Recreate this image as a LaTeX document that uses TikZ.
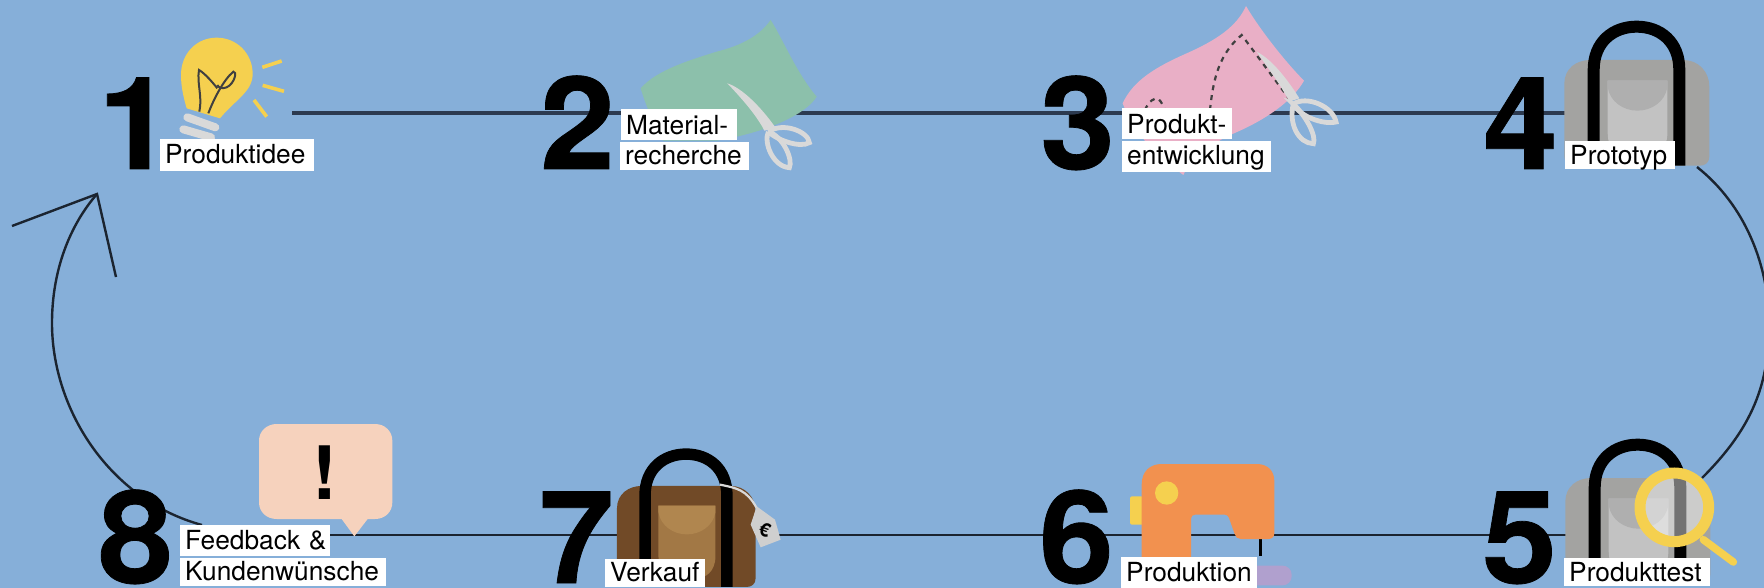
\documentclass[tikz,border=0pt]{standalone}
\usepackage{fontspec}
\setmainfont{TeX Gyre Heros}
\newfontfamily\digfont{TeX Gyre Heros}[BoldFeatures={FakeBold=0.6,FakeStretch=1.04}]
\definecolor{bgblue}{HTML}{86AFD9}
\definecolor{linedark}{HTML}{2C3A50}
\definecolor{curvedark}{HTML}{1B2430}
\definecolor{bulbyellow}{HTML}{F5D04F}
\definecolor{scissorgray}{HTML}{D9D9D9}
\definecolor{leafgreen}{HTML}{8CC0AB}
\definecolor{fabricpink}{HTML}{E9AFC6}
\definecolor{machineorange}{HTML}{F2914F}
\definecolor{basepurple}{HTML}{B0A0CE}
\definecolor{bubblepeach}{HTML}{F6D2BD}
\definecolor{baggray}{HTML}{A3A3A1}
\definecolor{pockgraytop}{HTML}{AFAFAF}
\definecolor{pockgraylow}{HTML}{C2C2C2}
\definecolor{bagbrown}{HTML}{714A27}
\definecolor{pockbrowntop}{HTML}{B0864F}
\definecolor{pockbrownlow}{HTML}{A27845}
\definecolor{tagcolor}{HTML}{CFCFCF}
\newcommand{\bagicon}[6]{%
  \begin{scope}[shift={(#1,#2)},scale=#3/3]
    \fill[#4] (283,250) .. controls (283,205) and (320,180) .. (360,180) -- (640,180)
      .. controls (685,180) and (718,215) .. (718,260) -- (718,470)
      .. controls (718,488) and (705,497) .. (690,497) -- (310,497)
      .. controls (295,497) and (283,488) .. (283,470) -- cycle;
    \fill[#6] (413,242) -- (592,242) -- (592,400) .. controls (592,450) and (560,470) .. (530,470)
      -- (475,470) .. controls (440,470) and (413,445) .. (413,400) -- cycle;
    \fill[#5] (413,242) -- (592,242) -- (592,262) .. controls (585,305) and (545,332) .. (502,332)
      .. controls (460,332) and (420,305) .. (413,262) -- cycle;
    \draw[black,line width=#3*12pt] (371,497) -- (371,210) .. controls (371,125) and (430,80) .. (500,80)
      .. controls (570,80) and (628,125) .. (628,210) -- (628,497);
  \end{scope}}
\tikzset{
  digit/.style={anchor=base west,inner sep=0pt,font=\digfont\fontsize{129}{129}\selectfont\bfseries,text=black},
  lab/.style={anchor=north west,fill=white,text=black,inner xsep=5pt,inner ysep=0pt,align=left,font=\fontsize{26.3}{26.3}\selectfont},
  mainline/.style={draw=linedark,line width=3.6pt},
  lowline/.style={draw=curvedark,line width=2.4pt},
  curveline/.style={draw=curvedark,line width=2.4pt},
  scissor/.style={draw=scissorgray,line width=4.8pt},
  ray/.style={draw=bulbyellow,line width=3.6pt},
  stitch/.style={draw=black!75,line width=2.2pt,dash pattern=on 5pt off 5pt}
}
\begin{document}
\begin{tikzpicture}[x=1pt,y=-1pt]
\useasboundingbox (0,0) rectangle (1764,588);
\clip (0,0) rectangle (1764,588);
\fill[bgblue] (0,0) rectangle (1764,588);
% connector ends
\coordinate (s1) at (292,113);
\coordinate (s2) at (640,113);
\coordinate (s3) at (1100,113);
\coordinate (s4) at (1600,113);
\coordinate (c4) at (1697,167);
\coordinate (c5) at (1702,478);
\coordinate (s5) at (1600,535);
\coordinate (s6) at (1100,535);
\coordinate (s7) at (640,535);
\coordinate (s8) at (330,535);
\coordinate (c8) at (202,525);
\coordinate (tip) at (97,194);
\coordinate (barbA) at (12,226);
\coordinate (barbB) at (116,277);
% connectors
\draw[mainline] (s1) -- (s2) -- (s3) -- (s4);
\draw[curveline] (c4) .. controls (1745,205) and (1769,265) .. (1769,325) .. controls (1769,390) and (1748,432) .. (c5);
\draw[lowline] (s5) -- (s6) -- (s7) -- (s8);
\draw[curveline] (c8) .. controls (110,500) and (52,410) .. (52,323) .. controls (52,270) and (70,225) .. (tip);
\draw[curveline,line join=miter] (barbA) -- (tip) -- (barbB);
% bulb
\begin{scope}[shift={(80,0)},scale=1/3]
  \fill[bulbyellow] (320,325) .. controls (310,290) and (303,260) .. (303,225) .. controls (303,160) and (350,113) .. (410,113)
    .. controls (470,113) and (518,160) .. (518,222) .. controls (518,275) and (465,300) .. (420,355) -- cycle;
  \draw[black!75,line width=2pt] (358,335) .. controls (368,290) and (350,250) .. (357,210)
    .. controls (375,220) and (400,250) .. (412,265);
  \draw[black!75,line width=2pt] (385,340) .. controls (400,300) and (430,240) .. (460,215)
    .. controls (472,212) and (465,250) .. (440,262) .. controls (425,268) and (415,262) .. (412,255);
  \draw[scissorgray,line width=8pt,line cap=round] (322,352) -- (406,382);
  \draw[scissorgray,line width=8pt,line cap=round] (310,388) -- (393,412);
  \draw[ray] (547,202) -- (605,183);
  \draw[ray] (548,256) -- (612,274);
  \draw[ray] (522,300) -- (560,350);
\end{scope}
% leaf and scissors
\begin{scope}[shift={(530,0)},scale=1/3]
  \fill[leafgreen] (332,265) .. controls (380,210) and (480,180) .. (560,155) .. controls (640,135) and (690,105) .. (722,60)
    .. controls (760,120) and (800,220) .. (860,290) .. controls (830,340) and (720,395) .. (560,422) -- (400,422) .. controls (370,370) and (345,310) .. (332,265) -- cycle;
  \fill[scissorgray] (592,250) .. controls (640,265) and (700,330) .. (738,385) -- (703,392) .. controls (680,345) and (630,290) .. cycle;
  \draw[scissor] (715,395) .. controls (760,365) and (835,395) .. (838,428) .. controls (810,445) and (740,420) .. cycle;
  \draw[scissor] (715,395) .. controls (700,430) and (730,500) .. (778,503) .. controls (790,480) and (760,410) .. cycle;
\end{scope}
% pink pattern and scissors
\begin{scope}[shift={(1030,0)},scale=1/3]
  \fill[fabricpink] (278,310) .. controls (310,240) and (380,200) .. (470,160) .. controls (560,120) and (620,80) .. (648,18)
    .. controls (690,90) and (770,190) .. (822,242) .. controls (790,300) and (710,360) .. (600,405)
    .. controls (530,440) and (480,480) .. (460,525) .. controls (400,480) and (320,420) .. (278,310) -- cycle;
  \draw[stitch] (345,330) .. controls (355,305) and (375,290) .. (385,297) .. controls (395,305) and (400,320) .. (405,330);
  \draw[stitch] (540,330) .. controls (550,230) and (570,160) .. (635,105) -- (780,300);
  \fill[scissorgray] (680,155) .. controls (730,180) and (780,250) .. (808,295) -- (778,305) .. controls (750,250) and (710,200) .. cycle;
  \draw[scissor] (790,312) .. controls (830,285) and (910,320) .. (918,366) .. controls (880,375) and (810,350) .. cycle;
  \draw[scissor] (790,312) .. controls (775,370) and (805,430) .. (850,431) .. controls (860,410) and (830,350) .. cycle;
\end{scope}
% bags
\bagicon{1470}{0}{1}{baggray}{pockgraytop}{pockgraylow}
\bagicon{1471}{418}{1}{baggray}{pockgraytop}{pockgraylow}
\bagicon{526.8}{428.6}{0.956}{bagbrown}{pockbrowntop}{pockbrownlow}
% magnifier
\begin{scope}[shift={(1470,388)},scale=1/3]
  \fill[white,fill opacity=0.45] (613,358) circle (103);
  \draw[bulbyellow,line width=7.6pt,line cap=round] (700,455) -- (790,522);
  \draw[bulbyellow,line width=11pt] (613,358) circle (103);
\end{scope}
% price tag
\begin{scope}[shift={(530,388)},scale=1/3]
  \draw[scissorgray,line width=2.2pt] (570,290) .. controls (620,300) and (650,305) .. (680,360);
  \fill[tagcolor] (680,355) -- (735,395) -- (752,455) -- (692,478) -- (662,410) -- cycle;
  \node[rotate=-20,inner sep=0pt,text=black,font=\fontsize{19}{19}\selectfont\bfseries] (euro) at (705,425) {€};
\end{scope}
% sewing machine
\begin{scope}[shift={(1030,388)},scale=1/3]
  \fill[basepurple,rounded corners=9pt] (400,533) rectangle (785,592);
  \draw[black,line width=2.4pt] (692,453) -- (692,505);
  \fill[bulbyellow,rounded corners=2pt] (300,325) rectangle (340,410);
  \fill[machineorange] (335,560) -- (335,290) .. controls (335,250) and (360,228) .. (395,228) -- (680,228)
    .. controls (715,228) and (733,250) .. (733,280) -- (733,435) .. controls (733,447) and (725,453) .. (715,453)
    -- (632,453) .. controls (622,453) and (617,447) .. (614,438) -- (597,390) .. controls (595,384) and (590,380) .. (585,380)
    -- (495,380) .. controls (488,380) and (483,385) .. (483,392) -- (483,560) -- cycle;
  \fill[bulbyellow] (410,315) circle (35);
\end{scope}
% speech bubble
\begin{scope}[shift={(80,388)},scale=1/3]
  \fill[bubblepeach] (537,158) .. controls (537,130) and (560,108) .. (590,108) -- (885,108)
    .. controls (915,108) and (937,130) .. (937,158) -- (937,343) .. controls (937,372) and (915,393) .. (885,393)
    -- (863,393) -- (823,445) -- (785,393) -- (590,393) .. controls (560,393) and (537,372) .. (537,343) -- cycle;
  \node[anchor=base,inner sep=0pt,text=black,font=\fontsize{74}{74}\selectfont\bfseries] (bang) at (735,333) {!};
\end{scope}
% labels
\node[lab,text width=144pt,text height=24pt,text depth=8pt] (l1) at (160,139) {Produktidee};
\node[lab,text width=106pt,text height=25pt,text depth=6pt] (l2a) at (621,109) {Material-};
\node[lab,text width=119pt,text height=22pt,text depth=6pt] (l2b) at (620,142) {recherche};
\node[lab,text width=100pt,text height=25pt,text depth=6pt] (l3a) at (1122,108) {Produkt-};
\node[lab,text width=139pt,text height=23pt,text depth=8pt] (l3b) at (1122,141) {entwicklung};
\node[lab,text width=100pt,text height=23pt,text depth=5pt] (l4) at (1565,141) {Prototyp};
\node[lab,text width=136pt,text height=23pt,text depth=5pt] (l5) at (1564,558) {Produkttest};
\node[lab,text width=126pt,text height=24pt,text depth=7pt] (l6) at (1121,557) {Produktion};
\node[lab,text width=90pt,text height=22pt,text depth=6pt] (l7) at (605,559) {Verkauf};
\node[lab,text width=140pt,text height=24pt,text depth=7pt] (l8a) at (180,525) {\mbox{Feedback \&}};
\node[lab,text width=196pt,text height=22pt,text depth=6pt] (l8b) at (180,558) {\mbox{Kundenwünsche}};
% numbers
\node[digit] (n1) at (98,169) {1};
\node[digit] (n2) at (540,169) {2};
\node[digit] (n3) at (1040,169) {3};
\node[digit] (n4) at (1483,169) {4};
\node[digit] (n5) at (1482,583) {5};
\node[digit] (n6) at (1039,583) {6};
\node[digit] (n7) at (539,583) {7};
\node[digit] (n8) at (98,583) {8};
\end{tikzpicture}
\end{document}
